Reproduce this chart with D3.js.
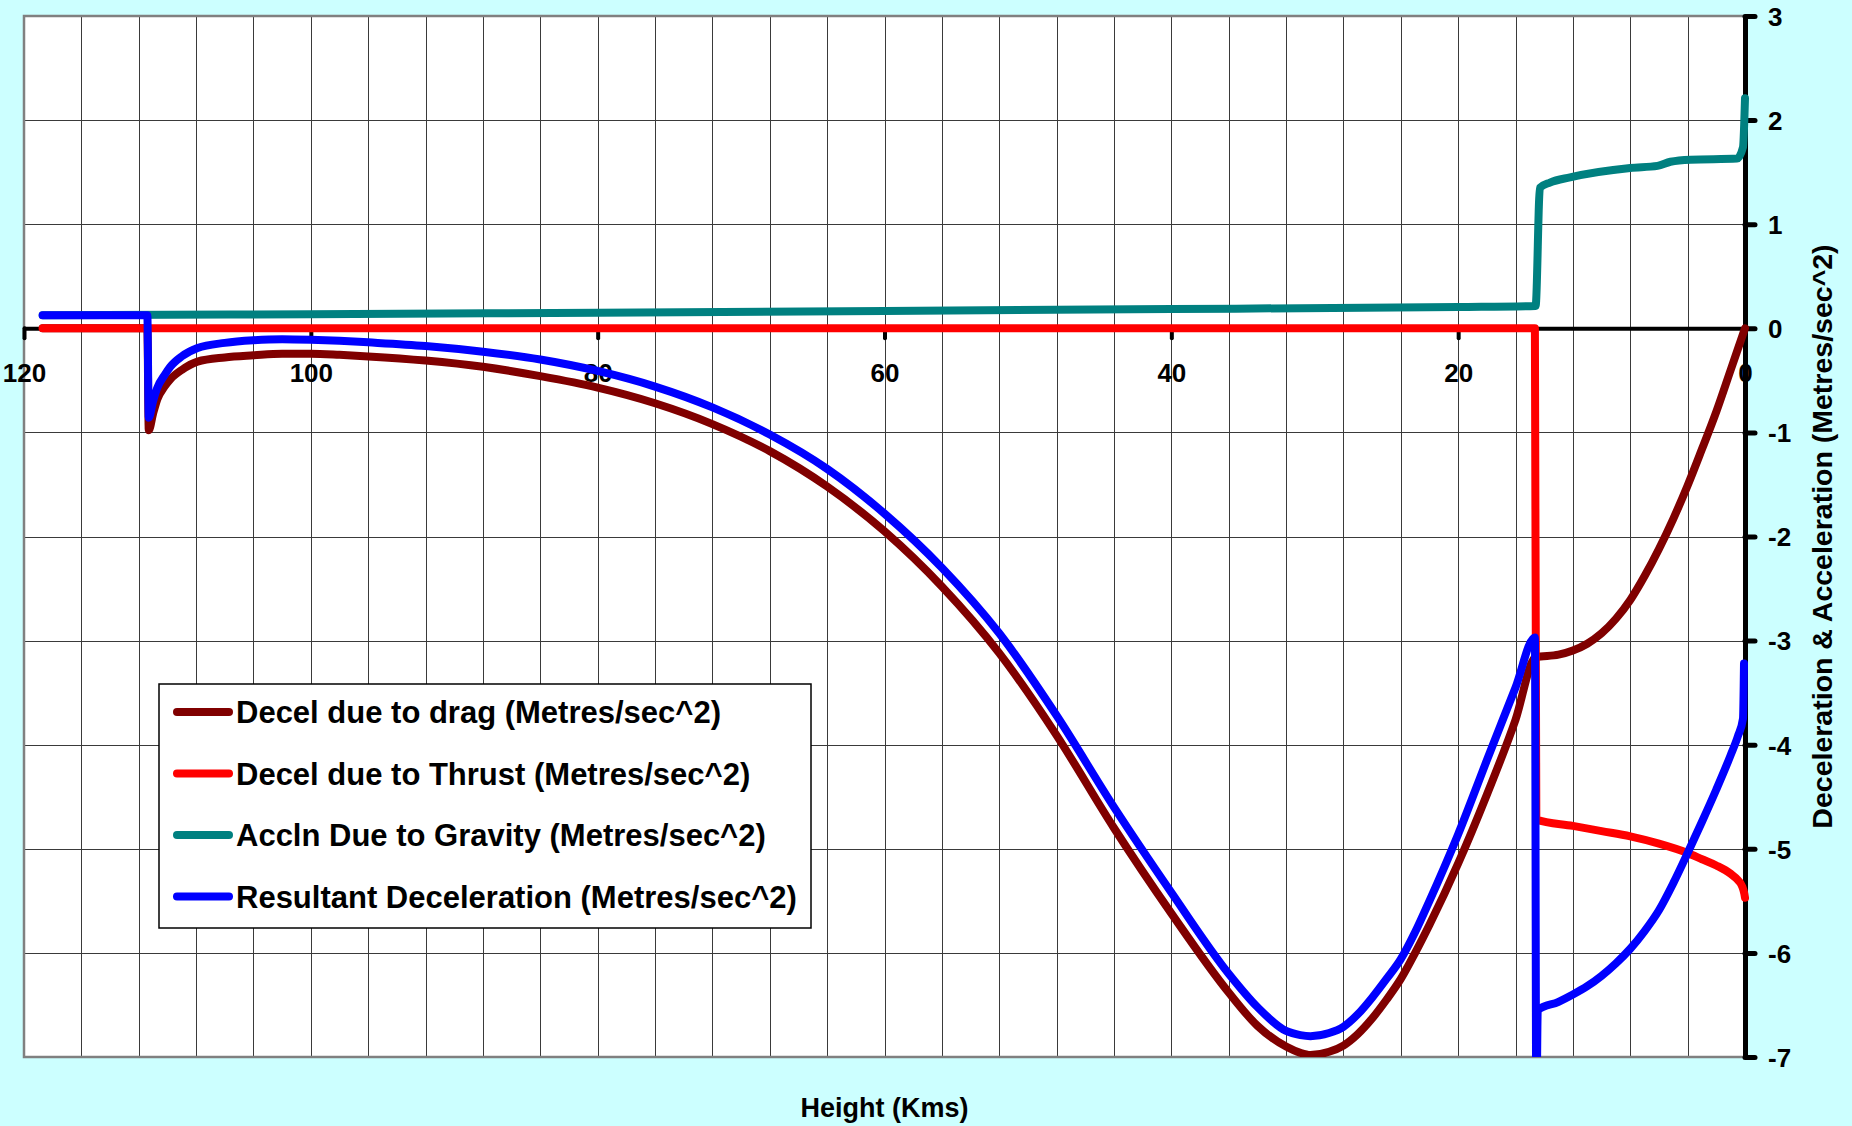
<!DOCTYPE html>
<html>
<head>
<meta charset="utf-8">
<script src="https://cdn.jsdelivr.net/npm/d3@7"></script>
<style>
  body { margin: 0; background: #ccffff; }
  svg text { font-family: "Liberation Sans", Arial, sans-serif; font-weight: bold; fill: #000; }
</style>
</head>
<body>
<div class="container"></div>
<script>
//Data: [height (km), value (m/s^2)]
var dragPts = [[118.7,0],[111.4,0],[111.3,-0.98],[111.0,-0.82],[110.7,-0.68],[110.2,-0.56],[109.8,-0.49],
  [109.0,-0.40],[107.9,-0.32],[106,-0.28],[104,-0.26],[102,-0.245],[100,-0.245],[98,-0.255],[96,-0.27],
  [92,-0.31],[88,-0.37],[84,-0.46],[80,-0.57],[76,-0.72],[72,-0.92],[68,-1.18],[64,-1.52],[60,-1.95],
  [56,-2.48],[52,-3.12],[48,-3.91],[44,-4.80],[40,-5.62],[36,-6.38],[34,-6.70],[32,-6.90],[31,-6.96],
  [30.3,-6.98],[29,-6.95],[28,-6.89],[27,-6.78],[26,-6.63],[25,-6.45],[24,-6.25],[23,-6.0],[22,-5.73],
  [20,-5.14],[18,-4.48],[16,-3.76],[14.6,-3.16],
  [13,-3.135],[12,-3.095],[11,-3.03],[10,-2.93],[9,-2.79],[8,-2.61],[7,-2.38],[6,-2.12],[5,-1.83],
  [4,-1.51],[3,-1.16],[2,-0.8],[1,-0.4],[0,0]];
var thrustPts = [[118.7,0],[14.65,0],[14.55,-4.72],[12,-4.78],[10,-4.83],[8,-4.88],[6,-4.95],
  [4,-5.04],[3,-5.1],[2,-5.16],[1,-5.24],[0.5,-5.3],[0.2,-5.36],[0.05,-5.43],[0,-5.47]];
var gravityPts = [[118.7,0.125],[100,0.135],[80,0.15],[60,0.167],[40,0.185],[20,0.205],[14.6,0.215],
  [14.3,1.35],[13.6,1.40],[12.2,1.45],[8.0,1.54],[6.1,1.56],[5.2,1.6],[3.8,1.62],[0.56,1.63],
  [0.14,1.74],[0,2.21]];
var resultPts = [[118.7,0.125],[111.4,0.125],[111.3,-0.86],[111.0,-0.70],[110.7,-0.57],[110.2,-0.45],
  [109.8,-0.37],[109.0,-0.27],[107.9,-0.19],[106,-0.14],[104,-0.115],[102,-0.105],[100,-0.11],[98,-0.12],
  [96,-0.135],[92,-0.17],[88,-0.225],[84,-0.30],[80,-0.41],[76,-0.56],[72,-0.76],[68,-1.02],[64,-1.35],
  [60,-1.78],[56,-2.30],[52,-2.93],[48,-3.72],[44,-4.60],[40,-5.42],[36,-6.2],[34,-6.52],[32,-6.75],
  [31,-6.79],[30.3,-6.80],[29,-6.77],[28,-6.71],[27,-6.59],[26,-6.43],[25,-6.25],[24,-6.06],[23,-5.8],
  [22,-5.5],[20,-4.86],[18,-4.15],[16,-3.45],
  [14.65,-2.97],[14.55,-7.6],[14.45,-6.55],[13,-6.47],[12,-6.40],[11,-6.32],[10,-6.22],[9,-6.1],
  [8,-5.96],[7,-5.79],[6,-5.59],[5,-5.33],[4,-5.04],[3,-4.74],[2,-4.43],[1,-4.1],[0.5,-3.92],
  [0.14,-3.75],[0.07,-3.22]];

var seriesNames = ["Decel due to drag (Metres/sec^2)", "Decel due to Thrust (Metres/sec^2)",
  "Accln Due to Gravity (Metres/sec^2)", "Resultant Deceleration (Metres/sec^2)"];
var seriesColors = ["#800000", "#ff0000", "#008080", "#0000ff"];
var xLabels = [120, 100, 80, 60, 40, 20, 0];
var yLabels = [3, 2, 1, 0, -1, -2, -3, -4, -5, -6, -7];
var xGrid = d3.range(0, 121, 4);

//Layout
var width = 1852, height = 1126;
var plot = {left: 24, top: 16, right: 1745, bottom: 1057};

var x = d3.scaleLinear().domain([120, 0]).range([plot.left, plot.right]);
var y = d3.scaleLinear().domain([3, -7]).range([plot.top, plot.bottom]);

var svg = d3.select(".container").append("svg")
    .attr("width", width)
    .attr("height", height);

svg.append("rect").attr("width", width).attr("height", height).attr("fill", "#ccffff");
svg.append("rect")
    .attr("x", plot.left).attr("y", plot.top)
    .attr("width", plot.right - plot.left).attr("height", plot.bottom - plot.top)
    .attr("fill", "#fff");

//Gridlines
var gx = svg.append("g").attr("transform", "translate(0," + plot.bottom + ")")
    .call(d3.axisBottom(x).tickValues(xGrid).tickSize(-(plot.bottom - plot.top)).tickFormat(""));
var gy = svg.append("g").attr("transform", "translate(" + plot.left + ",0)")
    .call(d3.axisLeft(y).tickValues(yLabels).tickSize(-(plot.right - plot.left)).tickFormat(""));
[gx, gy].forEach(function(g) {
  g.select(".domain").remove();
  g.selectAll("line").attr("stroke", "#3a3a3a").attr("stroke-width", 1).attr("shape-rendering", "crispEdges");
});

//Plot border
svg.append("rect")
    .attr("x", plot.left).attr("y", plot.top)
    .attr("width", plot.right - plot.left).attr("height", plot.bottom - plot.top)
    .attr("fill", "none").attr("stroke", "#808080").attr("stroke-width", 2.5);

//X axis sits at y = 0
var xAxis = svg.append("g").attr("transform", "translate(0," + y(0) + ")")
    .call(d3.axisBottom(x).tickValues(xLabels).tickSizeInner(10).tickSizeOuter(0).tickPadding(25));
xAxis.select(".domain").attr("stroke", "#000").attr("stroke-width", 4);
xAxis.selectAll("line").attr("stroke", "#000").attr("stroke-width", 4).attr("stroke-linecap", "round");
xAxis.selectAll("text").attr("font-size", 26).attr("fill", "#000")
    .style("font-family", '"Liberation Sans", Arial, sans-serif').style("font-weight", "bold");

//Right axis
var yAxis = svg.append("g").attr("transform", "translate(" + plot.right + ",0)")
    .call(d3.axisRight(y).tickValues(yLabels).tickFormat(d3.format("d")).tickSizeInner(10).tickSizeOuter(0).tickPadding(13));
yAxis.select(".domain").attr("stroke", "#000").attr("stroke-width", 5);
yAxis.selectAll("line").attr("stroke", "#000").attr("stroke-width", 5).attr("stroke-linecap", "round");
yAxis.selectAll("text").attr("font-size", 26).attr("fill", "#000").attr("dy", "0.36em")
    .style("font-family", '"Liberation Sans", Arial, sans-serif').style("font-weight", "bold")
    .text(function(d) { return d < 0 ? "-" + Math.abs(d) : d; });

//Series
svg.append("clipPath").attr("id", "clip")
  .append("rect").attr("x", 0).attr("y", plot.top).attr("width", width).attr("height", plot.bottom - plot.top);

var line = d3.line()
    .x(function(d) { return x(d[0]); })
    .y(function(d) { return y(d[1]); })
    .curve(d3.curveMonotoneX);

var gl = svg.append("g").attr("clip-path", "url(#clip)");
[dragPts, thrustPts, gravityPts, resultPts].forEach(function(pts, i) {
  gl.append("path").datum(pts)
    .attr("d", line)
    .attr("fill", "none")
    .attr("stroke", seriesColors[i])
    .attr("stroke-width", 8)
    .attr("stroke-linecap", "round")
    .attr("stroke-linejoin", "round");
});

//Legend
var leg = svg.append("g").attr("transform", "translate(159,684)");
leg.append("rect").attr("width", 652).attr("height", 244)
    .attr("fill", "#fff").attr("stroke", "#000").attr("stroke-width", 1.5);
seriesNames.forEach(function(name, i) {
  var yy = 28 + i * 61.5;
  leg.append("line").attr("x1", 18).attr("x2", 70).attr("y1", yy).attr("y2", yy)
    .attr("stroke", seriesColors[i]).attr("stroke-width", 8).attr("stroke-linecap", "round");
  leg.append("text").attr("x", 77).attr("y", yy).attr("dy", "0.36em")
    .attr("font-size", 31).text(name);
});

//Axis titles
svg.append("text")
    .attr("x", (plot.left + plot.right) / 2).attr("y", 1117)
    .attr("text-anchor", "middle").attr("font-size", 27)
    .text("Height (Kms)");
svg.append("text")
    .attr("transform", "translate(1832," + ((plot.top + plot.bottom) / 2) + ") rotate(-90)")
    .attr("text-anchor", "middle").attr("font-size", 28.5)
    .text("Deceleration & Acceleration (Metres/sec^2)");
</script>
</body>
</html>
